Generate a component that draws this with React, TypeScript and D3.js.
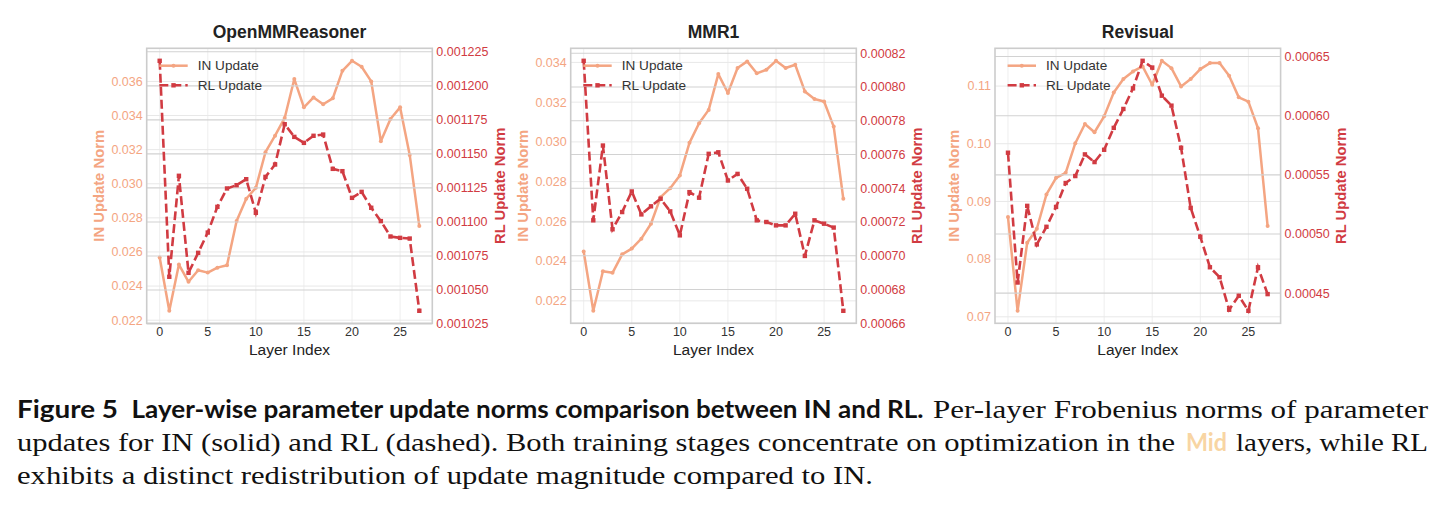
import * as d3 from "d3";

// layer index (x axis)
const layers = [0, 1, 2, 3, 4, 5, 6, 7, 8, 9, 10, 11, 12, 13, 14, 15, 16, 17, 18, 19, 20, 21, 22, 23, 24, 25, 26, 27];
const xTicks = [0, 5, 10, 15, 20, 25];

// OpenMMReasoner
const omrIn = [
  0.02567, 0.02255, 0.02526, 0.02425, 0.02493, 0.02479, 0.02508, 0.02522, 0.02781, 0.02912,
  0.02976, 0.03185, 0.03282, 0.03386, 0.03614, 0.03448, 0.03506, 0.03466, 0.03501, 0.03662,
  0.03721, 0.03686, 0.036, 0.03249, 0.0338, 0.03448, 0.03169, 0.02752,
];
const omrRl = [
  0.0012184, 0.0010597, 0.0011339, 0.0010626, 0.0010773, 0.0010922, 0.0011111, 0.0011246, 0.001127, 0.0011314,
  0.0011067, 0.0011331, 0.0011422, 0.0011718, 0.0011625, 0.0011581, 0.0011633, 0.0011642, 0.001139, 0.0011373,
  0.0011177, 0.0011221, 0.0011104, 0.0011006, 0.0010893, 0.0010883, 0.0010878, 0.0010347,
];
const omrLeftTicks = [0.022, 0.024, 0.026, 0.028, 0.03, 0.032, 0.034, 0.036];
const omrRightTicks = [0.001025, 0.00105, 0.001075, 0.0011, 0.001125, 0.00115, 0.001175, 0.0012, 0.001225];

// MMR1
const mmrIn = [
  0.02449, 0.0215, 0.02349, 0.02341, 0.02434, 0.02463, 0.02513, 0.02588, 0.02722, 0.02767,
  0.02831, 0.02995, 0.03094, 0.03161, 0.03341, 0.03246, 0.03372, 0.03405, 0.03345, 0.03363,
  0.03408, 0.03372, 0.03388, 0.03254, 0.03216, 0.03203, 0.03077, 0.02714,
];
const mmrRl = [
  0.0008155, 0.000721, 0.0007653, 0.0007157, 0.0007259, 0.0007381, 0.0007245, 0.0007293, 0.0007338, 0.0007263,
  0.0007121, 0.0007377, 0.0007344, 0.0007604, 0.0007613, 0.0007446, 0.0007485, 0.0007397, 0.000721, 0.00072,
  0.000718, 0.000718, 0.0007249, 0.0006999, 0.000721, 0.000719, 0.0007167, 0.0006674,
];
const mmrLeftTicks = [0.022, 0.024, 0.026, 0.028, 0.03, 0.032, 0.034];
const mmrRightTicks = [0.00066, 0.00068, 0.0007, 0.00072, 0.00074, 0.00076, 0.00078, 0.0008, 0.00082];

// Revisual
const revIn = [
  0.08729, 0.07104, 0.08285, 0.08527, 0.09121, 0.09409, 0.09496, 0.10009, 0.10343, 0.10199,
  0.10475, 0.1089, 0.11121, 0.11254, 0.1134, 0.11023, 0.11438, 0.11311, 0.10994, 0.11121,
  0.11294, 0.11398, 0.11398, 0.11179, 0.10804, 0.10729, 0.10268, 0.08573,
];
const revRl = [
  0.0005687, 0.000459, 0.0005238, 0.0004912, 0.0005061, 0.0005229, 0.0005431, 0.000549, 0.0005673, 0.0005608,
  0.0005712, 0.0005897, 0.0006057, 0.0006231, 0.0006464, 0.0006407, 0.0006169, 0.0006085, 0.0005729, 0.0005221,
  0.0004977, 0.0004719, 0.0004635, 0.000436, 0.0004478, 0.0004351, 0.0004719, 0.0004492,
];
const revLeftTicks = [0.07, 0.08, 0.09, 0.1, 0.11];
const revRightTicks = [0.00045, 0.0005, 0.00055, 0.0006, 0.00065];

const IN_COLOR = "#f4a582";
const RL_COLOR = "#d13b42";
const FONT = "'Liberation Sans', Arial, sans-serif";
const TOP = 48.3;
const H = 275;
const W = 285.6;

function padded(vals: number[]): [number, number] {
  const [lo, hi] = d3.extent(vals) as [number, number];
  const p = (hi - lo) * 0.05;
  return [lo - p, hi + p];
}

// rough width of a numeric tick label in Liberation Sans
function labelWidth(s: string, size: number) {
  let w = 0;
  for (const c of s) w += c === "." ? 0.278 : 0.556;
  return w * size;
}

interface PanelProps {
  left: number;
  title: string;
  inVals: number[];
  rlVals: number[];
  leftTicks: number[];
  rightTicks: number[];
  leftDec: number;
  rightDec: number;
}

function Panel({ left, title, inVals, rlVals, leftTicks, rightTicks, leftDec, rightDec }: PanelProps) {
  const x = d3.scaleLinear().domain(padded(layers)).range([left, left + W]);
  const yIn = d3.scaleLinear().domain(padded(inVals)).range([TOP + H, TOP]);
  const yRl = d3.scaleLinear().domain(padded(rlVals)).range([TOP + H, TOP]);

  const inLine = d3.line<number>().x((_, i) => x(layers[i])).y((d) => yIn(d))(inVals) || "";
  const rlLine = d3.line<number>().x((_, i) => x(layers[i])).y((d) => yRl(d))(rlVals) || "";

  const tickSize = 12.5;
  const leftW = d3.max(leftTicks, (t) => labelWidth(t.toFixed(leftDec), tickSize)) || 0;
  const rightW = d3.max(rightTicks, (t) => labelWidth(t.toFixed(rightDec), tickSize)) || 0;
  const leftLabelX = left - 4 - leftW - 12.7;
  const rightLabelX = left + W + 4 + rightW + 11;
  const midY = TOP + H / 2;
  const lx = left + 12.6;

  return (
    <g>
      <text x={left + W / 2} y={38} textAnchor="middle" fontFamily={FONT} fontWeight="bold" fontSize={17.5} fill="#222">
        {title}
      </text>

      {/* light grid (x + left axis) */}
      {xTicks.map((t) => (
        <line key={"xg" + t} x1={x(t)} x2={x(t)} y1={TOP} y2={TOP + H} stroke="#ececec" strokeWidth={0.9} />
      ))}
      {leftTicks.map((t) => (
        <line key={"lg" + t} x1={left} x2={left + W} y1={yIn(t)} y2={yIn(t)} stroke="#e8e8e8" strokeWidth={1} />
      ))}

      {/* IN series */}
      <path d={inLine} fill="none" stroke={IN_COLOR} strokeWidth={2.5} strokeLinejoin="round" />
      {inVals.map((v, i) => (
        <circle key={"ic" + i} cx={x(layers[i])} cy={yIn(v)} r={2} fill={IN_COLOR} />
      ))}

      {/* right axis grid */}
      {rightTicks.map((t) => (
        <line key={"rg" + t} x1={left} x2={left + W} y1={yRl(t)} y2={yRl(t)} stroke="#d2d2d2" strokeWidth={1.1} />
      ))}

      {/* RL series */}
      <path d={rlLine} fill="none" stroke={RL_COLOR} strokeWidth={2.6} strokeDasharray="9,4" />
      {rlVals.map((v, i) => (
        <rect key={"rs" + i} x={x(layers[i]) - 2.2} y={yRl(v) - 2.2} width={4.4} height={4.4} fill={RL_COLOR} />
      ))}

      <rect x={left} y={TOP} width={W} height={H} fill="none" stroke="#cccccc" strokeWidth={1.6} />

      {/* ticks */}
      {xTicks.map((t) => (
        <text key={"xt" + t} x={x(t)} y={TOP + H + 8.4} dy="0.35em" textAnchor="middle" fontFamily={FONT} fontSize={tickSize} fill="#333">
          {t}
        </text>
      ))}
      {leftTicks.map((t) => (
        <text key={"lt" + t} x={left - 4} y={yIn(t)} dy="0.35em" textAnchor="end" fontFamily={FONT} fontSize={tickSize} fill={IN_COLOR}>
          {t.toFixed(leftDec)}
        </text>
      ))}
      {rightTicks.map((t) => (
        <text key={"rt" + t} x={left + W + 4} y={yRl(t)} dy="0.35em" textAnchor="start" fontFamily={FONT} fontSize={tickSize} fill={RL_COLOR}>
          {t.toFixed(rightDec)}
        </text>
      ))}

      {/* axis labels */}
      <text x={left + W / 2} y={349.3} dy="0.35em" textAnchor="middle" fontFamily={FONT} fontSize={15.5} fill="#222">
        Layer Index
      </text>
      <text transform={`translate(${leftLabelX},${midY}) rotate(-90)`} dy="0.35em" textAnchor="middle" fontFamily={FONT} fontWeight="bold" fontSize={14.8} fill={IN_COLOR}>
        IN Update Norm
      </text>
      <text transform={`translate(${rightLabelX},${midY}) rotate(-90)`} dy="0.35em" textAnchor="middle" fontFamily={FONT} fontWeight="bold" fontSize={14.8} fill={RL_COLOR}>
        RL Update Norm
      </text>

      {/* legend */}
      <line x1={lx} x2={lx + 28.4} y1={TOP + 17.4} y2={TOP + 17.4} stroke={IN_COLOR} strokeWidth={2.5} />
      <circle cx={lx + 14.2} cy={TOP + 17.4} r={2} fill={IN_COLOR} />
      <text x={lx + 38.4} y={TOP + 17.4} dy="0.35em" fontFamily={FONT} fontSize={13.6} fill="#333">
        IN Update
      </text>
      <line x1={lx} x2={lx + 28.4} y1={TOP + 37} y2={TOP + 37} stroke={RL_COLOR} strokeWidth={2.6} strokeDasharray="9,4" />
      <rect x={lx + 12} y={TOP + 34.8} width={4.4} height={4.4} fill={RL_COLOR} />
      <text x={lx + 38.4} y={TOP + 37} dy="0.35em" fontFamily={FONT} fontSize={13.6} fill="#333">
        RL Update
      </text>
    </g>
  );
}

const SERIF = "'Liberation Serif', 'Times New Roman', serif";
const CAPSANS = "Lato, 'Open Sans', sans-serif";

export default function App() {
  return (
    <svg width={1443} height={505} style={{ position: "absolute", left: 0, top: 0, background: "#fff" }}>
      <Panel left={146.7} title="OpenMMReasoner" inVals={omrIn} rlVals={omrRl} leftTicks={omrLeftTicks} rightTicks={omrRightTicks} leftDec={3} rightDec={6} />
      <Panel left={570.7} title="MMR1" inVals={mmrIn} rlVals={mmrRl} leftTicks={mmrLeftTicks} rightTicks={mmrRightTicks} leftDec={3} rightDec={5} />
      <Panel left={995} title="Revisual" inVals={revIn} rlVals={revRl} leftTicks={revLeftTicks} rightTicks={revRightTicks} leftDec={2} rightDec={5} />

      {/* caption */}
      <text x={17} y={418} fontFamily={CAPSANS} fontWeight="bold" fontSize={25} fill="#111" textLength={101} lengthAdjust="spacingAndGlyphs">
        Figure 5
      </text>
      <text x={131.5} y={418} fontFamily={CAPSANS} fontWeight="bold" fontSize={25} fill="#111" textLength={792} lengthAdjust="spacingAndGlyphs">
        Layer-wise parameter update norms comparison between IN and RL.
      </text>
      <text x={933} y={418} fontFamily={SERIF} fontSize={26} fill="#111" textLength={495} lengthAdjust="spacingAndGlyphs">
        Per-layer Frobenius norms of parameter
      </text>
      <text x={17} y={451} fontFamily={SERIF} fontSize={26} fill="#111" textLength={1158} lengthAdjust="spacingAndGlyphs">
        updates for IN (solid) and RL (dashed). Both training stages concentrate on optimization in the
      </text>
      <text x={1186} y={451} fontFamily={CAPSANS} fontWeight="bold" fontSize={25} fill="#f8d5a3" textLength={41} lengthAdjust="spacingAndGlyphs">
        Mid
      </text>
      <text x={1236} y={451} fontFamily={SERIF} fontSize={26} fill="#111" textLength={192} lengthAdjust="spacingAndGlyphs">
        layers, while RL
      </text>
      <text x={17} y={484} fontFamily={SERIF} fontSize={26} fill="#111" textLength={856} lengthAdjust="spacingAndGlyphs">
        exhibits a distinct redistribution of update magnitude compared to IN.
      </text>
    </svg>
  );
}
